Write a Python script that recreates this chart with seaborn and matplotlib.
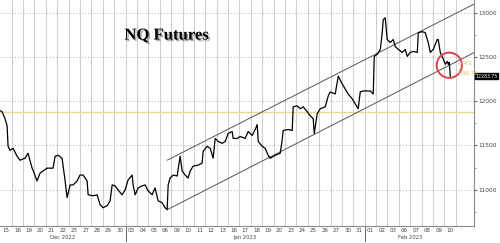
import matplotlib
matplotlib.use("Agg")
import matplotlib.pyplot as plt
import matplotlib.patheffects as pe
import matplotlib.transforms as mtransforms
import numpy as np
import pandas as pd
import seaborn as sns

# ---- data (x in trading-day units, y = NQ price) ----
day_labels = ["15", "16", "19", "20", "21", "22", "23", "27", "28", "29", "30",
              "03", "04", "05", "06", "09", "10", "11", "12", "13", "16", "17", "18",
              "19", "20", "23", "24", "25", "26", "27", "30", "31",
              "01", "02", "03", "06", "07", "08", "09", "10"]
month_labels = ["Dec 2022", "Jan 2023", "Feb 2023"]
month_counts = [11, 21, 8]

price_t = [0.0, 0.15, 0.41, 0.59, 0.68, 0.85, 1.12, 1.47, 1.73, 2.17, 2.43, 2.79, 2.87,
           3.22, 3.49, 4.10, 4.63, 4.81, 5.07, 5.42, 5.69, 5.86, 6.13, 6.39, 6.74, 7.00,
           7.27, 7.62, 7.71, 8.15, 8.50, 8.76, 9.02, 9.38, 9.64, 9.82, 10.08, 10.34, 10.69,
           10.96, 11.22, 11.57, 11.66, 11.84, 12.10, 12.45, 12.72, 12.98, 13.33, 13.59,
           13.86, 14.21, 14.47, 14.65, 14.74, 14.91, 15.18, 15.53, 15.79, 15.97, 16.23,
           16.49, 16.67, 16.93, 17.37, 17.72, 17.81, 18.16, 18.43, 18.69, 18.87, 19.13,
           19.48, 19.75, 20.01, 20.36, 20.45, 20.80, 21.06, 21.50, 21.77, 22.12, 22.38,
           22.56, 22.65, 23.00, 23.26, 23.52, 23.70, 24.14, 24.58, 24.75, 24.84, 25.28,
           25.63, 25.72, 26.07, 26.34, 26.60, 26.95, 27.21, 27.48, 27.57, 27.83, 28.09,
           28.53, 28.80, 28.97, 29.41, 29.68, 30.03, 30.29, 30.55, 30.91, 31.17, 31.43,
           31.61, 31.87, 32.49, 32.75, 32.84, 33.10, 33.37, 33.54, 33.63, 33.80, 33.98,
           34.24, 34.51, 34.68, 34.95, 35.30, 35.56, 35.74, 36.00, 36.27, 36.62, 36.71,
           37.06, 37.32, 37.58, 37.76, 38.02, 38.37, 38.46, 38.64, 38.81, 39.08, 39.25,
           39.34, 39.43, 39.52]
price_v = [11894, 11883, 11804, 11726, 11490, 11445, 11468, 11378, 11333, 11356, 11412,
           11243, 11221, 11098, 11187, 11243, 11243, 11378, 11389, 11356, 11098, 10909,
           11053, 11053, 11098, 11165, 11165, 11098, 10941, 10930, 10941, 10829, 10795,
           10817, 10873, 11053, 11042, 10997, 10941, 10997, 11109, 11165, 11053, 10941,
           11019, 11042, 11053, 10986, 10941, 11019, 10873, 10851, 10795, 10772, 11053,
           11131, 11165, 11154, 11378, 11210, 11165, 11131, 11210, 11266, 11277, 11300,
           11434, 11490, 11468, 11356, 11580, 11546, 11524, 11546, 11636, 11658, 11580,
           11580, 11602, 11580, 11658, 11613, 11681, 11737, 11546, 11490, 11468, 11389,
           11356, 11389, 11412, 11557, 11670, 11681, 11670, 11938, 11950, 11916, 11938,
           11883, 11838, 11804, 11636, 11860, 11916, 11938, 12062, 12107, 12084, 12286,
           12196, 12140, 12084, 12028, 11972, 11916, 12107, 12118, 12118, 12084, 12510,
           12533, 12589, 12779, 12925, 12947, 12701, 12667, 12701, 12622, 12589, 12555,
           12589, 12510, 12555, 12566, 12555, 12779, 12790, 12779, 12667, 12555, 12589,
           12701, 12701, 12555, 12510, 12420, 12454, 12420, 12443, 12284]
last_price = "12283.75"

channel_t = [14.65, 41.8]
channel_upper = [11333, 13115]
channel_lower = [10772, 12566]
support_level = 11875
circle_t, circle_v = 39.43, 12409
note_lines = ["-3.4%", "-436.75"]

yticks = [11000, 11500, 12000, 12500, 13000]
yminor = [10750, 11250, 11750, 12250, 12750]

# ---- figure ----
sns.set_style("white")
plt.rcParams["font.family"] = ["DejaVu Sans"]
fig = plt.figure(figsize=(5.0, 2.43), dpi=100)
ax = fig.add_axes([0.0, 0.068, 0.948, 0.932])

n_days = len(day_labels)
# day boundary grid lines
ax.vlines(np.arange(1, n_days + 1), 0, 1, transform=ax.get_xaxis_transform(),
          colors="#cfcfcf", lw=0.8, zorder=0)
ax.set_yticks(yticks)
ax.set_yticks(yminor, minor=True)
ax.grid(axis="y", which="major", linestyle=(0, (1, 2)), color="#b0b0b0", lw=0.7)

ax.axhline(support_level, color="#e4d89a", lw=1.0, zorder=1)

df = pd.DataFrame({"t": price_t, "v": price_v})
sns.lineplot(data=df, x="t", y="v", color="black", lw=0.9, ax=ax, zorder=3,
             sort=False, estimator=None)

ax.plot(channel_t, channel_upper, color="#555555", lw=0.7, zorder=2)
ax.plot(channel_t, channel_lower, color="#555555", lw=0.7, zorder=2)

ax.scatter([circle_t], [circle_v], s=330, facecolors="none", edgecolors="#d9434a",
           linewidths=1.4, zorder=4)
ax.text(circle_t + 0.7, circle_v + 20, note_lines[0], color="#e9b25a", fontsize=3.8,
        ha="left", va="center", zorder=5)
ax.text(circle_t + 0.7, circle_v - 90, note_lines[1], color="#e9b25a", fontsize=3.8,
        ha="left", va="center", zorder=5)

ax.set_xlim(-0.03, 41.6)
ax.set_ylim(10582, 13149)

ax.set_xticks(np.arange(n_days) + 0.5)
ax.set_xticklabels(day_labels)
ax.tick_params(axis="x", length=0, pad=1.2, labelsize=4.0, labelcolor="#444444")
ax.yaxis.tick_right()
ax.tick_params(axis="y", which="major", length=2.0, width=0.8, color="#666666",
               pad=1.0, labelsize=4.2, labelcolor="#444444")
ax.tick_params(axis="y", which="minor", length=1.3, width=0.6, color="#888888")
ax.set_xlabel("")
ax.set_ylabel("")

for s in ["left", "top"]:
    ax.spines[s].set_visible(False)
for s in ["right", "bottom"]:
    ax.spines[s].set_color("#888888")
    ax.spines[s].set_linewidth(0.8)

# month separators and labels
trans = ax.get_xaxis_transform()
start = 0
for name, cnt in zip(month_labels, month_counts):
    if start > 0:
        ax.plot([start, start], [0, -0.065], transform=trans, color="#666666",
                lw=0.7, clip_on=False)
    ax.text(start + cnt / 2, -0.037, name, transform=trans, ha="center", va="top",
            fontsize=3.8, color="#444444")
    start += cnt

# last-price box
ax.text(1.003, float(last_price), last_price,
        transform=mtransforms.blended_transform_factory(ax.transAxes, ax.transData),
        ha="left", va="center", color="white", fontsize=3.3,
        bbox=dict(boxstyle="square,pad=0.1", fc="black", ec="black"), clip_on=False)

# title
ax.text(0.351, 0.843, "NQ Futures", transform=ax.transAxes, ha="center", va="center",
        fontsize=12, fontweight="bold", family="Liberation Serif", color="black",
        path_effects=[pe.SimplePatchShadow(offset=(1.2, -1.2), shadow_rgbFace="#777777",
                                           alpha=0.6), pe.Normal()])

fig.savefig("out.png", dpi=100)
